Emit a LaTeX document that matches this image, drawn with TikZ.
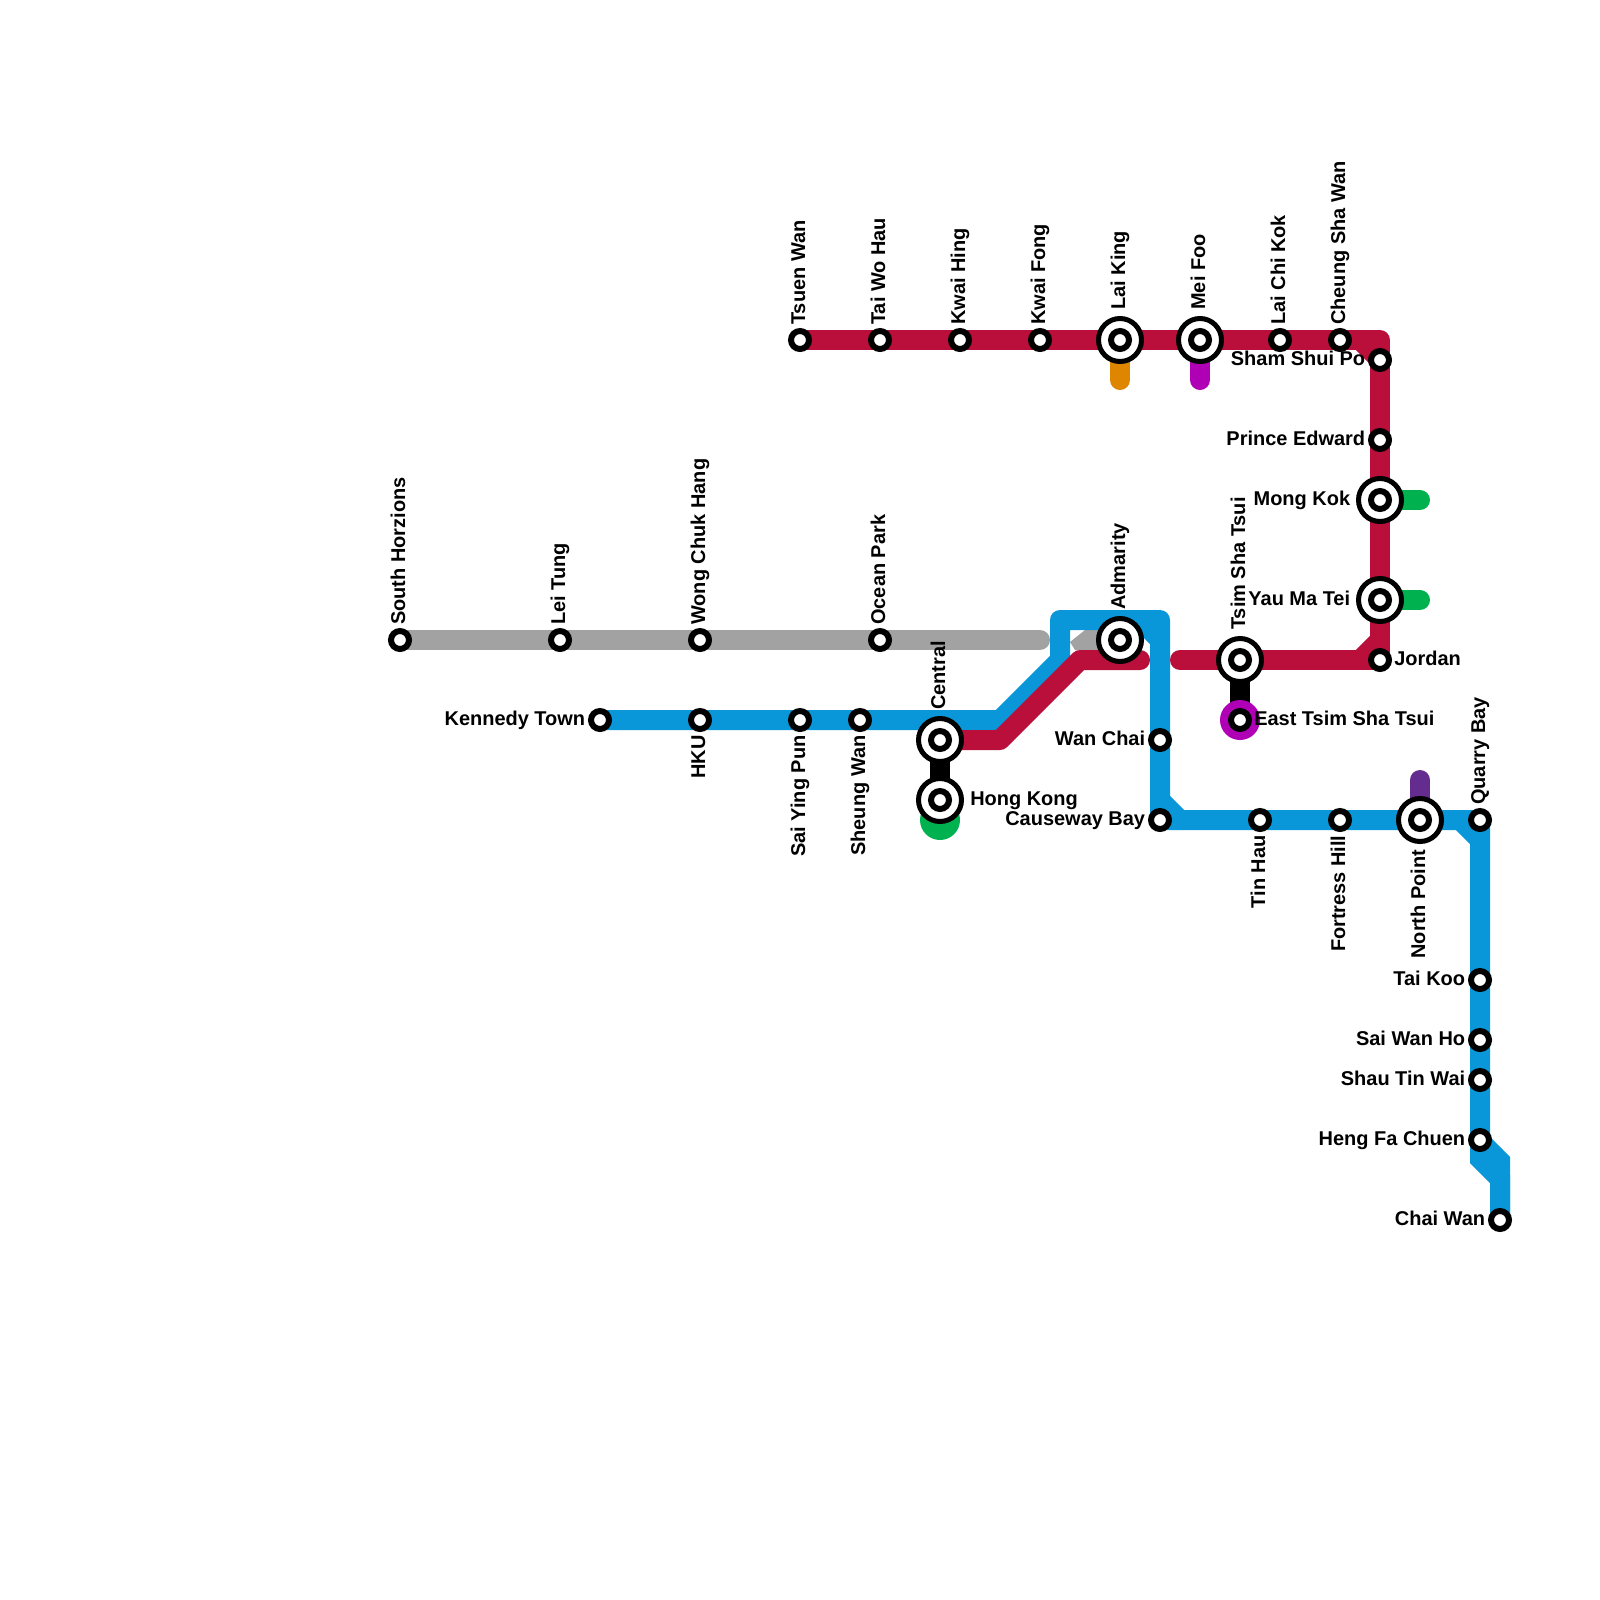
\documentclass[tikz,border=0pt]{standalone}
\usepackage{fontspec}
\setmainfont{Liberation Sans}
\usetikzlibrary{positioning}
\definecolor{mtrred}{HTML}{BA0F3A}
\definecolor{mtrblue}{HTML}{0A97D9}
\definecolor{mtrgrey}{HTML}{A2A2A2}
\definecolor{mtrorange}{HTML}{DF8600}
\definecolor{mtrmagenta}{HTML}{B000B5}
\definecolor{mtrgreen}{HTML}{00B14F}
\definecolor{mtrpurple}{HTML}{652C90}
\pgfdeclarelayer{tracks}
\pgfsetlayers{tracks,main}
\tikzset{
  track/.style={line width=5mm, line cap=round, line join=round},
  smallst/.style={circle, draw=black, fill=white, line width=1.5mm, minimum size=4.5mm, inner sep=0pt, outer sep=0pt},
  bigst/.style={circle, draw=black, fill=white, line width=1.25mm, minimum size=10.75mm, inner sep=0pt, outer sep=0pt,
    path picture={\draw[black, fill=white, line width=1.5mm] (path picture bounding box.center) circle[radius=2.25mm];}},
  lab/.style={font=\fontsize{14.2}{14.2}\selectfont\bfseries, inner sep=0pt, text=black},
  labup/.style={lab, xshift=1.25mm, yshift=3.75mm, rotate=90, anchor=base west},
  labupbig/.style={lab, xshift=1.25mm, yshift=7.5mm, rotate=90, anchor=base west},
  labdown/.style={lab, xshift=1.25mm, yshift=-3.8mm, rotate=90, anchor=base east},
  labdownbig/.style={lab, xshift=1.25mm, yshift=-7.4mm, rotate=90, anchor=base east},
  lableft/.style={lab, xshift=-3.65mm, yshift=-1.4mm, anchor=base east},
  lableftbig/.style={lab, xshift=-7.4mm, yshift=-1.4mm, anchor=base east},
  labright/.style={lab, xshift=3.5mm, yshift=-1.4mm, anchor=base west},
  labrightbig/.style={lab, xshift=7.5mm, yshift=-1.4mm, anchor=base west}
}

\begin{document}
\begin{tikzpicture}[x=5mm, y=-5mm]
    \useasboundingbox (0,0) rectangle (80,80);
    \foreach \name/\x/\y/\lab in {south/20/32/South Horzions, leitung/28/32/Lei Tung, wongchuk/35/32/Wong Chuk Hang, oceanpark/44/32/Ocean Park, tsuen/40/17/Tsuen Wan, taiwohau/44/17/Tai Wo Hau, kwaihing/48/17/Kwai Hing, kwaifong/52/17/Kwai Fong, laichikok/64/17/Lai Chi Kok, cheungsha/67/17/Cheung Sha Wan, quarry/74/41/Quarry Bay}{
      \node[smallst] (\name) at (\x,\y) {};
      \node[labup] (\name-lab) at (\x,\y) {\lab};
    }
    \foreach \name/\x/\y/\lab in {hku/35/36/HKU, saiying/40/36/Sai Ying Pun, sheung/43/36/Sheung Wan, tinhau/63/41/Tin Hau, fortress/67/41/Fortress Hill}{
      \node[smallst] (\name) at (\x,\y) {};
      \node[labdown] (\name-lab) at (\x,\y) {\lab};
    }
    \foreach \name/\x/\y/\lab in {kennedy/30/36/Kennedy Town, wanchai/58/37/Wan Chai, causeway/58/41/Causeway Bay, shamshui/69/18/Sham Shui Po, prince/69/22/Prince Edward, taikoo/74/49/Tai Koo, saiwan/74/52/Sai Wan Ho, shau/74/54/Shau Tin Wai, hengfa/74/57/Heng Fa Chuen, chaiwan/75/61/Chai Wan}{
      \node[smallst] (\name) at (\x,\y) {};
      \node[lableft] (\name-lab) at (\x,\y) {\lab};
    }
    \foreach \name/\x/\y/\lab in {jordan/69/33/Jordan, easttst/62/36/East Tsim Sha Tsui}{
      \node[smallst] (\name) at (\x,\y) {};
      \node[labright] (\name-lab) at (\x,\y) {\lab};
    }
    \foreach \name/\x/\y/\lab in {central/47/37/Central, admarity/56/32/Admarity, laiking/56/17/Lai King, meifoo/60/17/Mei Foo, tsimsha/62/33/Tsim Sha Tsui}{
      \node[bigst] (\name) at (\x,\y) {};
      \node[labupbig] (\name-lab) at (\x,\y) {\lab};
    }
    \foreach \name/\x/\y/\lab in {mongkok/69/25/Mong Kok, yaumatei/69/30/Yau Ma Tei}{
      \node[bigst] (\name) at (\x,\y) {};
      \node[lableftbig] (\name-lab) at (\x,\y) {\lab};
    }
    \node[bigst] (hongkong) at (47,40) {};
    \node[labrightbig] (hongkong-lab) at (47,40) {Hong Kong};
    \node[bigst] (northpoint) at (71,41) {};
    \node[labdownbig] (northpoint-lab) at (71,41) {North Point};
    \coordinate (greyend) at (52,32);
    \coordinate (greystub) at (54.25,32);
    \coordinate (bluea) at (50,36);
    \coordinate (blueb) at (53,33);
    \coordinate (bluec) at (53,31);
    \coordinate (blued) at (58,31);
    \coordinate (reda) at (50,37);
    \coordinate (redb) at (54,33);
    \coordinate (redc) at (57,33);
    \coordinate (redd) at (69,17);
    \coordinate (rede) at (59,33);
    \begin{pgfonlayer}{tracks}
      \draw[track, mtrorange] (laiking.center) -- (56,19);
      \draw[track, mtrmagenta] (meifoo.center) -- (60,19);
      \draw[track, mtrgreen] (mongkok.center) -- (71,25);
      \draw[track, mtrgreen] (yaumatei.center) -- (71,30);
      \draw[track, mtrpurple] (northpoint.center) -- (71,39);
      \draw[track, black] (central.center) -- (hongkong.center);
      \draw[track, black] (tsimsha.center) -- (easttst.center);
      \fill[mtrgreen] (47,41) circle[radius=5mm];
      \fill[mtrmagenta] (easttst.center) circle[radius=5mm];
      \draw[track, mtrgrey] (south.center) -- (greyend);
      \draw[track, mtrgrey, line cap=butt] (admarity.center) -- (greystub);
      \fill[mtrgrey] (54.25,31.5) -- (53.5,32.1) -- (53.75,32.5) -- (54.25,32.5) -- cycle;
      \draw[track, mtrblue] (kennedy.center) -- (bluea) -- (blueb) -- (bluec) -- (blued) -- (causeway.center) -- (quarry.center) -- (hengfa.center);
      \draw[track, mtrblue, line join=miter] (74,57.05) -- (75,58.05) -- (chaiwan.center);
      \draw[track, mtrblue, line join=miter] (hengfa.center) -- (74,57.95) -- (75,58.95) -- (chaiwan.center);
      \draw[track, mtrred] (tsuen.center) -- (redd) -- (jordan.center) -- (tsimsha.center) -- (rede);
      \draw[track, mtrred] (central.center) -- (reda) -- (redb) -- (redc);
      \foreach \c/\a/\b in {mtrblue/{57,31}/{58,32}, mtrblue/{58,40}/{59,41}, mtrblue/{73,41}/{74,42}, mtrred/{68,17}/{69,18}, mtrred/{68,33}/{69,32}}{
        \draw[track, \c] (\a) -- (\b);
      }
    \end{pgfonlayer}
\end{tikzpicture}
\end{document}
